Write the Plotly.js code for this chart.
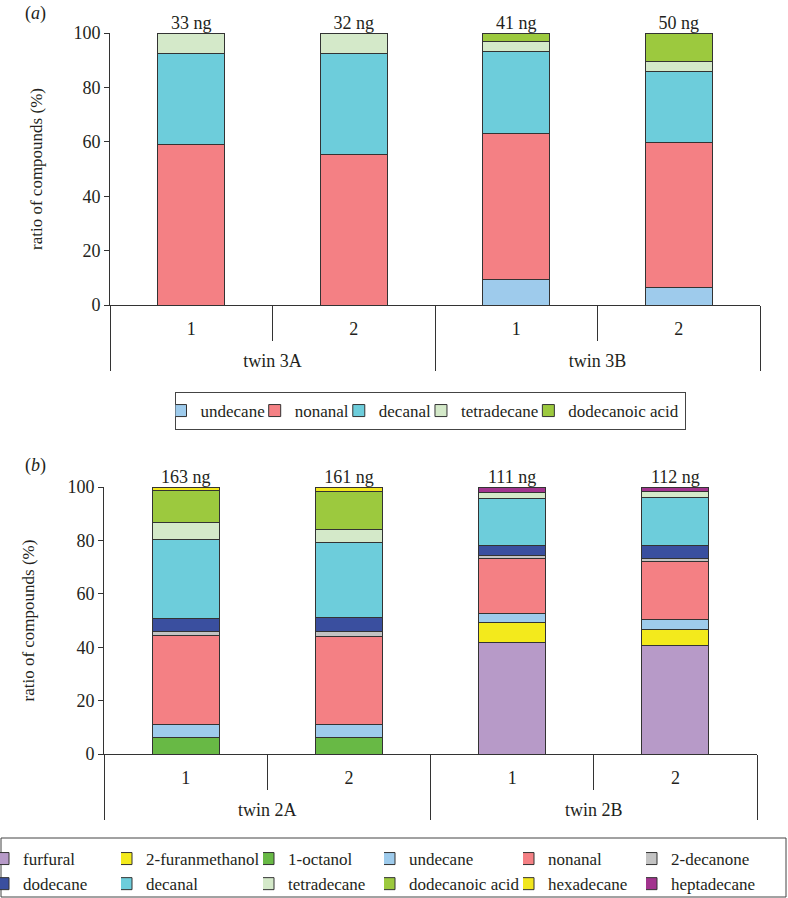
<!DOCTYPE html>
<html><head><meta charset="utf-8">
<script src="https://cdn.plot.ly/plotly-3.0.1.min.js"></script>
<style>body{margin:0;background:#fff;overflow:hidden}#a{width:788px;height:440px}#b{width:818px;height:458px;margin-left:-30px}</style>
</head><body><div id="a"></div><div id="b"></div>
<script>
// ---------- panel (a) data ----------
var groupsA = ['twin 3A', 'twin 3A', 'twin 3B', 'twin 3B'];
var subsA = ['1', '2', '1', '2'];
var totalsA = ['33 ng', '32 ng', '41 ng', '50 ng'];
var undecaneA = [0, 0, 9.2, 6.3];
var nonanalA = [59.1, 55.5, 54.0, 53.4];
var decanalA = [33.2, 36.8, 30.0, 26.3];
var tetradecaneA = [7.7, 7.7, 3.5, 3.6];
var dodecanoicA = [0, 0, 3.3, 10.4];

// ---------- panel (b) data ----------
var groupsB = ['twin 2A', 'twin 2A', 'twin 2B', 'twin 2B'];
var subsB = ['1', '2', '1', '2'];
var totalsB = ['163 ng', '161 ng', '111 ng', '112 ng'];
var furfuralB = [0, 0, 41.7, 40.8];
var furanmethanolB = [0, 0, 7.4, 6.0];
var octanolB = [6.2, 6.2, 0, 0];
var undecaneB = [5.0, 5.0, 3.6, 3.5];
var nonanalB = [33.1, 32.8, 20.7, 21.7];
var decanoneB = [1.4, 1.7, 0.8, 1.4];
var dodecaneB = [5.0, 5.5, 3.9, 4.6];
var decanalB = [29.7, 28.1, 17.5, 18.0];
var tetradecaneB = [6.3, 4.7, 2.5, 2.2];
var dodecanoicB = [11.9, 14.2, 0, 0];
var hexadecaneB = [1.4, 1.8, 0, 0];
var heptadecaneB = [0, 0, 1.9, 1.8];

var COL = {
  'furfural': '#b79ac8', '2-furanmethanol': '#f3ea1c', '1-octanol': '#68b945',
  'undecane': '#9ecbec', 'nonanal': '#f48084', '2-decanone': '#c3c3c3',
  'dodecane': '#3a4f9f', 'decanal': '#6dcddb', 'tetradecane': '#d4e9c9',
  'dodecanoic acid': '#9cc93e', 'hexadecane': '#f1e61e', 'heptadecane': '#a2348e'
};
var FONT = 'Liberation Serif';
var INK = '#231f20';
var EDGE = '#333333';
var YTITLE = 'ratio of compounds (%)';
// invisible tall spacer so that the group labels sit lower, as in the original
var SPACER = '<span style="font-size:34px">\u00a0</span>';
function padLabel(s) { return SPACER + s + SPACER; }

function bar(name, x, y, legendId) {
  return {type: 'bar', name: name, x: x, y: y, legend: legendId || 'legend',
    marker: {color: COL[name], line: {color: EDGE, width: 1}}, hoverinfo: 'skip'};
}
function sums(series) {
  return series[0].map(function (_, i) {
    var s = series.reduce(function (acc, arr) { return acc + arr[i]; }, 0);
    return Math.round(s * 10) / 10;
  });
}
function labelTrace(x, series, text) {
  return {type: 'scatter', mode: 'text', x: x, y: sums(series), text: text,
    textposition: 'top center', textfont: {family: FONT, size: 18, color: INK},
    showlegend: false, hoverinfo: 'skip', cliponaxis: false};
}
function xaxis() {
  return {type: 'multicategory', showline: true, linecolor: EDGE, linewidth: 1,
    ticks: 'outside', tickson: 'boundaries', ticklen: 35, tickcolor: EDGE, tickwidth: 1,
    ticklabelstandoff: 7,
    showdividers: true, dividercolor: EDGE, dividerwidth: 1,
    tickfont: {family: FONT, size: 18, color: INK}, showgrid: false, zeroline: false,
    fixedrange: true};
}
function yaxis(withTitle) {
  var ax = {range: [0, 100], tickvals: [0, 20, 40, 60, 80, 100], showline: true, linecolor: EDGE,
    linewidth: 1, ticks: 'outside', ticklen: 5, tickcolor: EDGE, showgrid: false, zeroline: false,
    tickfont: {family: FONT, size: 18, color: INK}, fixedrange: true};
  if (withTitle) ax.title = {text: YTITLE, font: {family: FONT, size: 17, color: INK}, standoff: 26};
  return ax;
}

// ---------- panel (a) ----------
var xA = [groupsA, subsA.map(padLabel)];
var tracesA = [
  bar('undecane', xA, undecaneA), bar('nonanal', xA, nonanalA), bar('decanal', xA, decanalA),
  bar('tetradecane', xA, tetradecaneA), bar('dodecanoic acid', xA, dodecanoicA),
  labelTrace(xA, [undecaneA, nonanalA, decanalA, tetradecaneA, dodecanoicA], totalsA)
];
var layoutA = {
  width: 788, height: 440, margin: {l: 110, r: 28, t: 33, b: 135, autoexpand: false},
  barmode: 'stack', bargap: 0.59, paper_bgcolor: '#fff', plot_bgcolor: '#fff',
  font: {family: FONT, color: INK, size: 17},
  xaxis: xaxis(), yaxis: yaxis(true),
  legend: {orientation: 'h', xref: 'container', yref: 'container', x: 0.5457, xanchor: 'center',
    y: 1 - 392 / 440, yanchor: 'top', bordercolor: '#444', borderwidth: 1, indentation: -15,
    font: {family: FONT, size: 17, color: INK}, traceorder: 'normal'},
  annotations: [{xref: 'paper', yref: 'paper', x: (35 - 110) / 650, y: (305 - 13) / 272,
    xanchor: 'center', yanchor: 'middle',
    text: '(<i>a</i>)', showarrow: false, font: {family: FONT, size: 18, color: INK}}]
};
Plotly.newPlot('a', tracesA, layoutA, {displayModeBar: false, staticPlot: true});

// ---------- panel (b) ----------
var xB = [groupsB, subsB.map(padLabel)];
var seriesB = [furfuralB, furanmethanolB, octanolB, undecaneB, nonanalB, decanoneB, dodecaneB,
  decanalB, tetradecaneB, dodecanoicB, hexadecaneB, heptadecaneB];
var namesB = ['furfural', '2-furanmethanol', '1-octanol', 'undecane', 'nonanal', '2-decanone',
  'dodecane', 'decanal', 'tetradecane', 'dodecanoic acid', 'hexadecane', 'heptadecane'];
// six legend columns (two entries each), framed together as in the original
var legIds = ['legend', 'legend2', 'legend3', 'legend4', 'legend5', 'legend6'];
var tracesB = namesB.map(function (n, i) { return bar(n, xB, seriesB[i], legIds[i % 6]); });
tracesB.push(labelTrace(xB, seriesB, totalsB));

var DIVW = 818, DIVH = 458, SHIFT = 30, ML = 134, MT = 47, PW = 653, PH = 267;
var colMarkX = [14, 137, 279, 400, 539, 662];   // screen x of each legend column's swatch
var MARK_OFF = 16;
var layoutB = {
  width: DIVW, height: DIVH, margin: {l: ML, r: 31, t: MT, b: 144, autoexpand: false},
  barmode: 'stack', bargap: 0.59, paper_bgcolor: '#fff', plot_bgcolor: '#fff',
  font: {family: FONT, color: INK, size: 17},
  xaxis: xaxis(), yaxis: yaxis(false),
  shapes: [{type: 'rect', xref: 'paper', yref: 'paper',
    x0: (1 + SHIFT - ML) / PW, x1: (786 + SHIFT - ML) / PW,
    y0: (MT + PH - 457) / PH, y1: (MT + PH - 398) / PH,
    line: {color: '#444', width: 1}, fillcolor: 'rgba(0,0,0,0)'}],
  annotations: [
    {xref: 'paper', yref: 'paper', x: (65 - ML) / PW, y: (MT + PH - 25) / PH,
      xanchor: 'center', yanchor: 'middle',
      text: '(<i>b</i>)', showarrow: false, font: {family: FONT, size: 18, color: INK}},
    {xref: 'paper', yref: 'paper', x: (28 + SHIFT - ML) / PW, y: 0.5, textangle: -90,
      xanchor: 'center', yanchor: 'middle',
      text: YTITLE, showarrow: false, font: {family: FONT, size: 17, color: INK}}
  ]
};
legIds.forEach(function (id, k) {
  layoutB[id] = {orientation: 'v', xref: 'container', yref: 'container',
    x: (colMarkX[k] + SHIFT - MARK_OFF) / DIVW, xanchor: 'left',
    y: 1 - 401 / DIVH, yanchor: 'top', borderwidth: 0, bgcolor: 'rgba(0,0,0,0)',
    indentation: -15, tracegroupgap: 0,
    font: {family: FONT, size: 17, color: INK}, traceorder: 'normal'};
});
Plotly.newPlot('b', tracesB, layoutB, {displayModeBar: false, staticPlot: true});
</script></body></html>
